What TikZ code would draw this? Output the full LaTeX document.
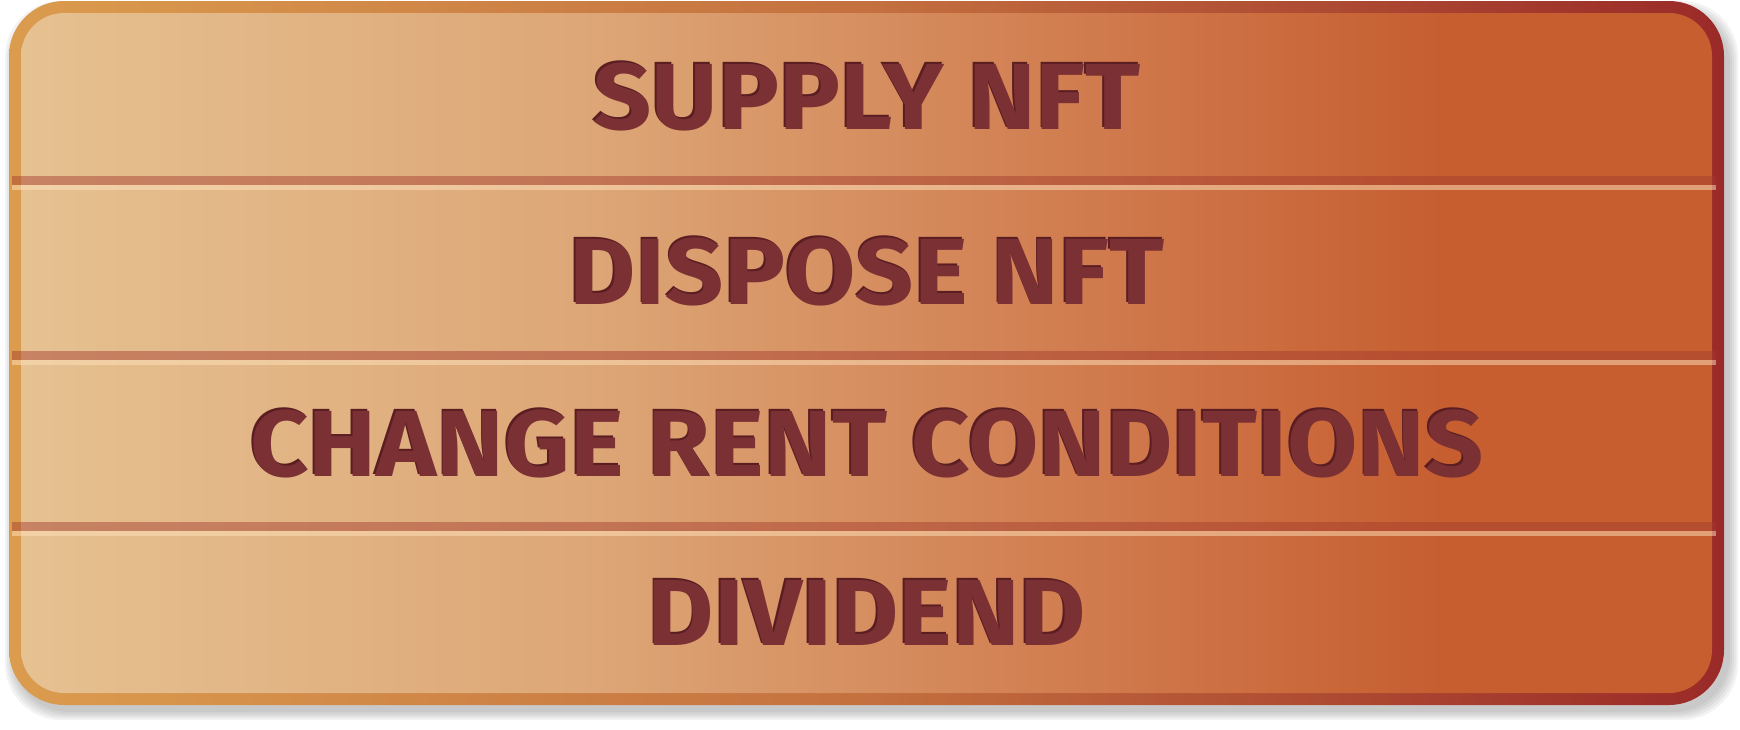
\documentclass[tikz,border=0pt]{standalone}
\usepackage{fontspec}
\setmainfont[FakeStretch=1.085]{Fira Sans}
\usepackage{tikz}
\usetikzlibrary{positioning}
\definecolor{tanlight}{HTML}{E6C191}
\definecolor{tanmid}{HTML}{DDA676}
\definecolor{rustmid}{HTML}{D07A4D}
\definecolor{rust}{HTML}{C65E30}
\definecolor{rimleft}{HTML}{DB9C4E}
\definecolor{rimmid}{HTML}{C4703F}
\definecolor{rimright}{HTML}{9A2A28}
\definecolor{sepdark}{HTML}{A33A2E}
\definecolor{seplight}{HTML}{FFE2BC}
\definecolor{maroon}{HTML}{7B3034}
\definecolor{maroondark}{HTML}{5A1D21}
\definecolor{shadowgray}{HTML}{505050}
\pgfdeclarehorizontalshading{panelfill}{100bp}{color(0bp)=(tanlight); color(25bp)=(tanlight); color(42bp)=(tanmid); color(57bp)=(rustmid); color(67bp)=(rust); color(100bp)=(rust)}
\pgfdeclarehorizontalshading{panelrim}{100bp}{color(0bp)=(rimleft); color(25bp)=(rimleft); color(50bp)=(rimmid); color(75bp)=(rimright); color(100bp)=(rimright)}
% pressed-in lettering: dark edge up-left, face on top
\newcommand{\pressed}[1]{\rlap{\kern-0.9pt\raisebox{0.9pt}{\textcolor{maroondark}{#1}}}\textcolor{maroon}{#1}}

\begin{document}
\begin{tikzpicture}[
  x=0.5pt, y=-0.5pt,
  rim/.style={shading=panelrim, rounded corners=27.5pt},
  panel/.style={shading=panelfill, rounded corners=21.5pt},
  rowtext/.style={font=\fontsize{47}{56}\selectfont\bfseries, inner sep=0pt, anchor=center},
  darkband/.style={fill=sepdark, opacity=0.46},
  lightband/.style={fill=seplight, opacity=0.5}
]
  \useasboundingbox (0,0) rectangle (1740,729);

  % Soft drop shadow
  \foreach \d in {0,2,4,6,8}
    \fill[shadowgray, opacity=0.07, rounded corners=28pt] (13-\d,9-\d) rectangle (1730+\d,712+\d);

  % Frame and face
  \path[rim] (9,1) rectangle (1724,705);
  \path[panel] (21,13) rectangle (1712,693);

  % Row separators
  \foreach \yy in {176,351,522} {
    \fill[darkband] (12,\yy) rectangle (1716,\yy+9);
    \fill[lightband] (12,\yy+9) rectangle (1716,\yy+14);
  }

  % Row labels
  \node[rowtext] (supply) at (867,96) {\pressed{SUPPLY NFT}};
  \node[rowtext] (dispose) at (867,271) {\pressed{DISPOSE NFT}};
  \node[rowtext] (change) at (867,443) {\pressed{CHANGE RENT CONDITIONS}};
  \node[rowtext] (dividend) at (867,612) {\pressed{DIVIDEND}};

\end{tikzpicture}
\end{document}
